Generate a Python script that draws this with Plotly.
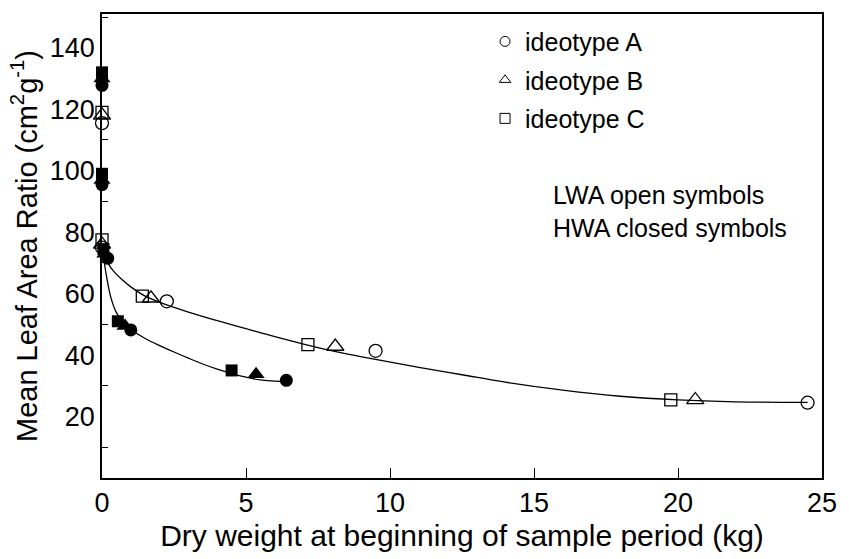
import plotly.graph_objects as go

# ---- data ----
# LWA (open symbols)
a_lwa_x = [0.0, 0.0, 2.25, 9.5, 24.5]
a_lwa_y = [115.5, 75.0, 57.5, 41.4, 24.5]
b_lwa_x = [0.0, 0.0, 1.7, 8.1, 20.6]
b_lwa_y = [118.0, 76.0, 58.5, 42.8, 25.4]
c_lwa_x = [0.0, 0.0, 1.4, 7.15, 19.75]
c_lwa_y = [119.0, 77.5, 59.2, 43.4, 25.4]

# HWA (closed symbols)
a_hwa_x = [0.0, 0.0, 0.2, 1.0, 6.4]
a_hwa_y = [127.8, 95.5, 71.5, 48.2, 31.8]
b_hwa_x = [0.0, 0.0, 0.1, 0.8, 5.35]
b_hwa_y = [130.0, 97.0, 73.0, 49.5, 33.8]
c_hwa_x = [0.0, 0.0, 0.05, 0.55, 4.5]
c_hwa_y = [132.0, 99.0, 74.5, 51.0, 35.0]

# fitted curves
lwa_curve_x = [0.05, 0.2, 0.4, 0.7, 1.0, 1.5, 2.2, 3.0, 4.0, 5.0, 6.0, 7.0, 8.0, 9.5,
               11.0, 12.5, 14.0, 16.0, 18.0, 20.0, 22.0, 24.5]
lwa_curve_y = [73.0, 70.0, 67.3, 64.5, 62.2, 59.2, 56.5, 54.0, 51.2, 48.6, 46.0, 43.6, 41.4, 38.6,
               36.0, 33.6, 31.2, 28.6, 26.6, 25.4, 24.8, 24.6]
hwa_curve_x = [0.05, 0.15, 0.3, 0.5, 0.8, 1.0, 1.5, 2.0, 2.5, 3.0, 3.5, 4.0, 4.5, 5.0, 5.5, 6.0, 6.4]
hwa_curve_y = [72.0, 66.0, 59.0, 53.8, 50.0, 48.3, 45.4, 43.1, 41.0, 39.0, 37.1, 35.4, 34.0, 32.8,
               31.9, 31.5, 31.5]

x_ticks = [0, 5, 10, 15, 20, 25]
y_ticks = [20, 40, 60, 80, 100, 120, 140]

FONT = "Liberation Sans, Arial, sans-serif"
BLACK = "#000000"

fig = go.Figure()

fig.add_trace(go.Scatter(x=lwa_curve_x, y=lwa_curve_y, mode="lines", line=dict(color=BLACK, width=1.3, shape="spline"),
                         showlegend=False, hoverinfo="skip"))
fig.add_trace(go.Scatter(x=hwa_curve_x, y=hwa_curve_y, mode="lines", line=dict(color=BLACK, width=1.3, shape="spline"),
                         showlegend=False, hoverinfo="skip"))

open_sets = [(a_lwa_x, a_lwa_y, "circle-open", 13), (b_lwa_x, b_lwa_y, "triangle-up-open", 15),
             (c_lwa_x, c_lwa_y, "square-open", 12)]
for xs, ys, sym, sz in open_sets:
    fig.add_trace(go.Scatter(x=xs, y=ys, mode="markers", cliponaxis=False, showlegend=False,
                             marker=dict(symbol=sym, size=sz, color=BLACK, line=dict(color=BLACK, width=1.3))))

closed_sets = [(c_hwa_x, c_hwa_y, "square", 12), (b_hwa_x, b_hwa_y, "triangle-up", 15),
               (a_hwa_x, a_hwa_y, "circle", 13)]
for xs, ys, sym, sz in closed_sets:
    fig.add_trace(go.Scatter(x=xs, y=ys, mode="markers", cliponaxis=False, showlegend=False,
                             marker=dict(symbol=sym, size=sz, color=BLACK, line=dict(width=0))))

# legend entries
leg = [("ideotype A", "circle-open"), ("ideotype B", "triangle-up-open"), ("ideotype C", "square-open")]
for i, (name, sym) in enumerate(leg):
    fig.add_trace(go.Scatter(x=[None], y=[None], mode="markers", name=name, legendgroup=f"g{i}",
                             marker=dict(symbol=sym, size=10, color=BLACK, line=dict(color=BLACK, width=1))))

fig.add_annotation(xref="paper", yref="paper", x=0.624, y=0.645, xanchor="left", yanchor="top",
                   text="LWA open symbols<br>HWA closed symbols", showarrow=False, align="left",
                   font=dict(family=FONT, size=25, color=BLACK))

fig.update_layout(
    width=849, height=559,
    margin=dict(l=102, r=23, t=12, b=77),
    paper_bgcolor="white", plot_bgcolor="white",
    font=dict(family=FONT, size=25, color=BLACK),
    legend=dict(x=0.532, y=0.99, xanchor="left", yanchor="top", bgcolor="rgba(0,0,0,0)",
                font=dict(family=FONT, size=25, color=BLACK), tracegroupgap=3, itemwidth=30),
    xaxis=dict(range=[0, 25], tickvals=x_ticks, ticks="inside", ticklen=10, tickwidth=1, tickcolor=BLACK,
               showline=True, linecolor=BLACK, linewidth=1.6, mirror=True, showgrid=False, zeroline=False,
               title=dict(text="Dry weight at beginning of sample period (kg)", standoff=8,
                          font=dict(family=FONT, size=30, color=BLACK)),
               tickfont=dict(family=FONT, size=27, color=BLACK)),
    yaxis=dict(range=[0, 151], tickvals=y_ticks, ticks="", showline=True, linecolor=BLACK, linewidth=1.6,
               mirror=True, showgrid=False, zeroline=False,
               minor=dict(tick0=10, dtick=20, ticks="inside", ticklen=6, tickcolor=BLACK, showgrid=False),
               title=dict(text="Mean Leaf Area Ratio (cm<sup>2</sup>g<sup>-1</sup>)", standoff=4,
                          font=dict(family=FONT, size=29, color=BLACK)),
               tickfont=dict(family=FONT, size=27, color=BLACK)),
)

fig.write_html("out.html")
